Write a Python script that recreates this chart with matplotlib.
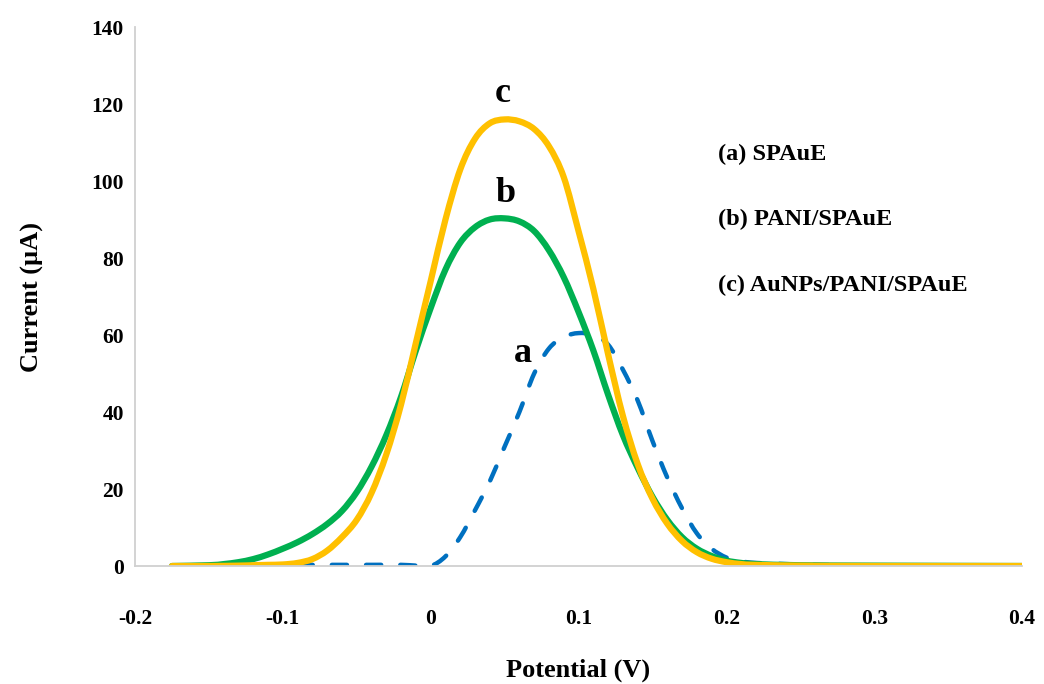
import matplotlib
matplotlib.use('Agg')
import numpy as np
import matplotlib.pyplot as plt
from matplotlib.path import Path
from matplotlib.patches import PathPatch

# curve (a) SPAuE - dashed blue
pot_a = [-0.09, -0.08, -0.06, -0.04, -0.02, -0.01, 0.0, 0.01, 0.02, 0.03, 0.04, 0.05,
         0.06, 0.07, 0.08, 0.09, 0.10, 0.11, 0.12, 0.13, 0.14, 0.15, 0.16, 0.17, 0.18,
         0.19, 0.20, 0.21, 0.22, 0.24, 0.26, 0.30, 0.35, 0.40]
cur_a = [0.3, 0.3, 0.3, 0.3, 0.3, 0.1, 0.0, 2.5, 7.5, 14.5, 22.0, 31.0,
         40.0, 50.0, 56.5, 59.5, 60.5, 60.0, 57.5, 51.0, 43.0, 32.5, 23.0, 15.0, 8.5,
         4.5, 2.2, 1.2, 0.8, 0.5, 0.3, 0.1, 0.0, 0.0]

# curve (b) PANI/SPAuE - green
pot_b = [-0.175, -0.15, -0.14, -0.13, -0.12, -0.11, -0.10, -0.09, -0.08, -0.07, -0.06,
         -0.05, -0.04, -0.03, -0.02, -0.01, 0.0, 0.01, 0.02, 0.03, 0.04, 0.05, 0.06,
         0.07, 0.08, 0.09, 0.10, 0.11, 0.12, 0.13, 0.14, 0.15, 0.16, 0.17, 0.18, 0.19,
         0.20, 0.21, 0.22, 0.25, 0.30, 0.40]
cur_b = [0.0, 0.2, 0.5, 1.0, 1.8, 3.0, 4.5, 6.2, 8.3, 10.9, 14.3,
         19.2, 25.8, 34.0, 44.0, 56.0, 67.0, 77.0, 84.0, 88.0, 90.0, 90.3, 89.5,
         87.0, 82.0, 75.0, 66.0, 56.0, 44.5, 34.0, 25.5, 18.0, 12.0, 7.5, 4.5, 2.6,
         1.4, 0.8, 0.5, 0.2, 0.1, 0.0]

# curve (c) AuNPs/PANI/SPAuE - yellow
pot_c = [-0.175, -0.15, -0.13, -0.12, -0.11, -0.10, -0.09, -0.08, -0.07, -0.06, -0.05,
         -0.04, -0.03, -0.02, -0.01, 0.0, 0.01, 0.02, 0.03, 0.04, 0.05, 0.06, 0.07,
         0.08, 0.09, 0.10, 0.11, 0.12, 0.13, 0.14, 0.15, 0.16, 0.17, 0.18, 0.19, 0.20,
         0.21, 0.22, 0.25, 0.30, 0.40]
cur_c = [0.0, 0.0, 0.1, 0.2, 0.3, 0.4, 0.8, 1.8, 4.0, 7.5, 12.0,
         19.0, 29.0, 42.0, 58.0, 74.0, 90.0, 103.0, 111.0, 115.0, 116.0, 115.5, 113.5,
         109.0, 101.0, 87.0, 72.0, 55.0, 39.0, 26.5, 17.5, 11.0, 6.5, 3.6, 1.9, 1.0,
         0.5, 0.3, 0.1, 0.0, 0.0]

legend_lines = ['(a) SPAuE', '(b) PANI/SPAuE', '(c) AuNPs/PANI/SPAuE']
curve_tags = ['a', 'b', 'c']


def smooth_path(xs, ys):
    # Excel-style smoothed line: Catmull-Rom segments as cubic Beziers
    p = np.column_stack([xs, ys]).astype(float)
    p = np.vstack([p[:1], p, p[-1:]])
    verts = [p[1]]
    codes = [Path.MOVETO]
    for i in range(1, len(p) - 2):
        c1 = p[i] + (p[i + 1] - p[i - 1]) / 6.0
        c2 = p[i + 1] - (p[i + 2] - p[i]) / 6.0
        verts += [c1, c2, p[i + 1]]
        codes += [Path.CURVE4] * 3
    return Path(verts, codes)


plt.rcParams['font.family'] = ['Liberation Serif', 'DejaVu Serif']
plt.rcParams['font.weight'] = 'bold'

fig = plt.figure(figsize=(10.44, 6.84), dpi=100)
ax = fig.add_axes([0.1293, 0.1725, 0.8497, 0.788])

ax.add_patch(PathPatch(smooth_path(pot_a, cur_a), fill=False, edgecolor='#0070C0',
                       lw=3.2, linestyle=(0, (3.4, 4.3)), capstyle='round'))
ax.add_patch(PathPatch(smooth_path(pot_b, cur_b), fill=False, edgecolor='#00B050',
                       lw=4.5, capstyle='round'))
ax.add_patch(PathPatch(smooth_path(pot_c, cur_c), fill=False, edgecolor='#FFC000',
                       lw=4.5, capstyle='round'))

ax.set_xlim(-0.2, 0.4)
ax.set_ylim(0, 140)
ax.set_xticks(np.arange(-0.2, 0.41, 0.1))
ax.set_xticklabels(['-0.2', '-0.1', '0', '0.1', '0.2', '0.3', '0.4'])
ax.set_yticks(range(0, 141, 20))

for s in ['top', 'right']:
    ax.spines[s].set_visible(False)
for s in ['left', 'bottom']:
    ax.spines[s].set_color('#D0D0D0')
    ax.spines[s].set_linewidth(1.3)

ax.tick_params(axis='both', length=0, labelsize=15.5)
ax.tick_params(axis='x', pad=31)
ax.tick_params(axis='y', pad=8)
for lab in ax.get_xticklabels() + ax.get_yticklabels():
    lab.set_fontweight('bold')

ax.set_xlabel('Potential (V)', fontsize=19, fontweight='bold', labelpad=21)
ax.set_ylabel('Current (µA)', fontsize=19, fontweight='bold', labelpad=34)

# curve labels
for (tx, ty), tag in zip([(0.0625, 53.0), (0.0504, 94.5), (0.049, 120.5)], curve_tags):
    ax.text(tx, ty, tag, fontsize=26, fontweight='bold', ha='center', va='baseline')

for ypos, txt in zip([106.8, 89.9, 73.0], legend_lines):
    ax.text(0.194, ypos, txt, fontsize=17.5, fontweight='bold', ha='left', va='center')

plt.savefig('out.png', dpi=100)
